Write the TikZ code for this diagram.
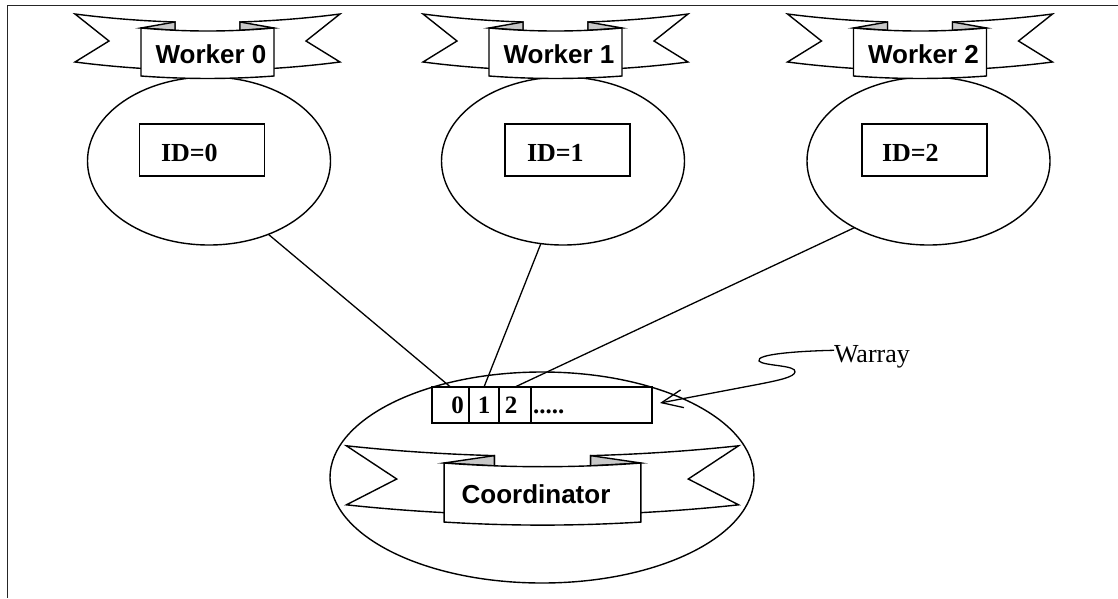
\documentclass[tikz,border=0pt]{standalone}
\usepackage{fontspec}
\setmainfont{Liberation Serif}
\newfontfamily\ribbonfont{Liberation Sans}
\usetikzlibrary{shapes.geometric,arrows.meta}
\definecolor{foldgray}{RGB}{200,200,200}

% A curved ribbon banner: panel in the middle, notched tails behind it,
% small grey folds where the band turns. Origin = top centre of the panel.
\tikzset{
  ribbon/.pic={
    \foreach \s in {-1,1}{
      \filldraw[fill=white,line width=1.4pt,xscale=\s]
        (-32.5,-6) .. controls (-65.8,-7.1) and (-99.2,-9.7) .. (-132.5,-14)
        -- (-98.5,13) -- (-132.5,34)
        .. controls (-99.2,38.3) and (-65.8,40.9) .. (-32.5,42) -- cycle;
      \filldraw[fill=foldgray,line width=1.4pt,xscale=\s]
        (-66.5,0) -- (-32.5,-6) -- (-32.5,2.3) -- cycle;
    }
    \filldraw[fill=white,line width=1.4pt]
      (-66.5,0) .. controls (-22.2,4) and (22.2,4) .. (66.5,0) -- (66.5,48)
      .. controls (22.2,51.3) and (-22.2,51.3) .. (-66.5,48) -- cycle;
  }
}

\begin{document}
\begin{tikzpicture}[x=1pt,y=-1pt,
  every node/.style={inner sep=0pt,outer sep=0pt},
  stroke/.style={line width=1.4pt},
  frame/.style={line width=1.6pt,draw=black!85},
  worker/.style={ellipse,draw,stroke,fill=white,minimum width=243pt,minimum height=168pt},
  coordell/.style={ellipse,draw,stroke,fill=white,minimum width=424pt,minimum height=211pt},
  idbox/.style={draw,stroke,minimum width=125pt,minimum height=52pt},
  idtext/.style={anchor=base west,font=\fontsize{26}{30}\selectfont\bfseries},
  cell/.style={draw,stroke,fill=white,minimum height=36pt},
  celltext/.style={anchor=base,font=\fontsize{25}{30}\selectfont\bfseries},
  ribbontext/.style={anchor=base,font=\ribbonfont\fontsize{26}{30}\selectfont\bfseries},
  link/.style={line width=1.3pt},
]
\useasboundingbox (0,0) rectangle (1118,598);

% page frame
\draw[frame] (1118,5.5) -- (7.5,5.5) -- (7.5,598);

% workers
\node[worker] (w0) at (209,161) {};
\node[worker] (w1) at (563,161) {};
\node[worker] (w2) at (928.5,161) {};

\pic at (207.5,28) {ribbon};
\pic at (555.5,28) {ribbon};
\pic at (920,28) {ribbon};
\node[ribbontext] (l0) at (211,63) {Worker 0};
\node[ribbontext] (l1) at (559,63) {Worker 1};
\node[ribbontext] (l2) at (923.5,63) {Worker 2};

\node[idbox] (id0) at (202,150) {};
\node[idbox] (id1) at (567.5,150) {};
\node[idbox] (id2) at (924.5,150) {};
\node[idtext] (n0) at (161,161) {ID=0};
\node[idtext] (n1) at (527,161) {ID=1};
\node[idtext] (n2) at (882,161) {ID=2};

% coordinator
\node[coordell] (co) at (542,477.5) {};
\pic[xscale=1.48,yscale=1.23] at (542.5,463) {ribbon};
\node[ribbontext] (lc) at (536,503) {Coordinator};

% worker array
\node[cell,minimum width=37pt] (c0) at (450.5,405) {};
\node[cell,minimum width=30pt] (c1) at (484,405) {};
\node[cell,minimum width=32pt] (c2) at (515,405) {};
\node[cell,minimum width=121pt] (c3) at (591.5,405) {};
\node[celltext] (d0) at (457.5,413) {0};
\node[celltext] (d1) at (484,413) {1};
\node[celltext] (d2) at (511,413) {2};
\node[celltext,anchor=base west] (d3) at (533,413) {.....};

% links from each worker to its slot
\draw[link] (w0.-51) -- (c0.north);
\draw[link] (w1.255.6) -- (c1.north);
\draw[link] (w2.222.7) -- (c2.north);

% array label with squiggly leader
\node[font=\fontsize{26}{30}\selectfont,anchor=base west] (wl) at (834,362) {Warray};
\draw[link,-{Straight Barb[length=21pt,width=18pt]}]
  ([yshift=6pt]wl.west) .. controls (800,351) and (755,354) .. (759,361)
  .. controls (763,366) and (797,365) .. (795,372)
  .. controls (794,377) and (780,380) .. (760,384)
  -- ([xshift=8pt,yshift=2pt]c3.east);
\end{tikzpicture}
\end{document}
